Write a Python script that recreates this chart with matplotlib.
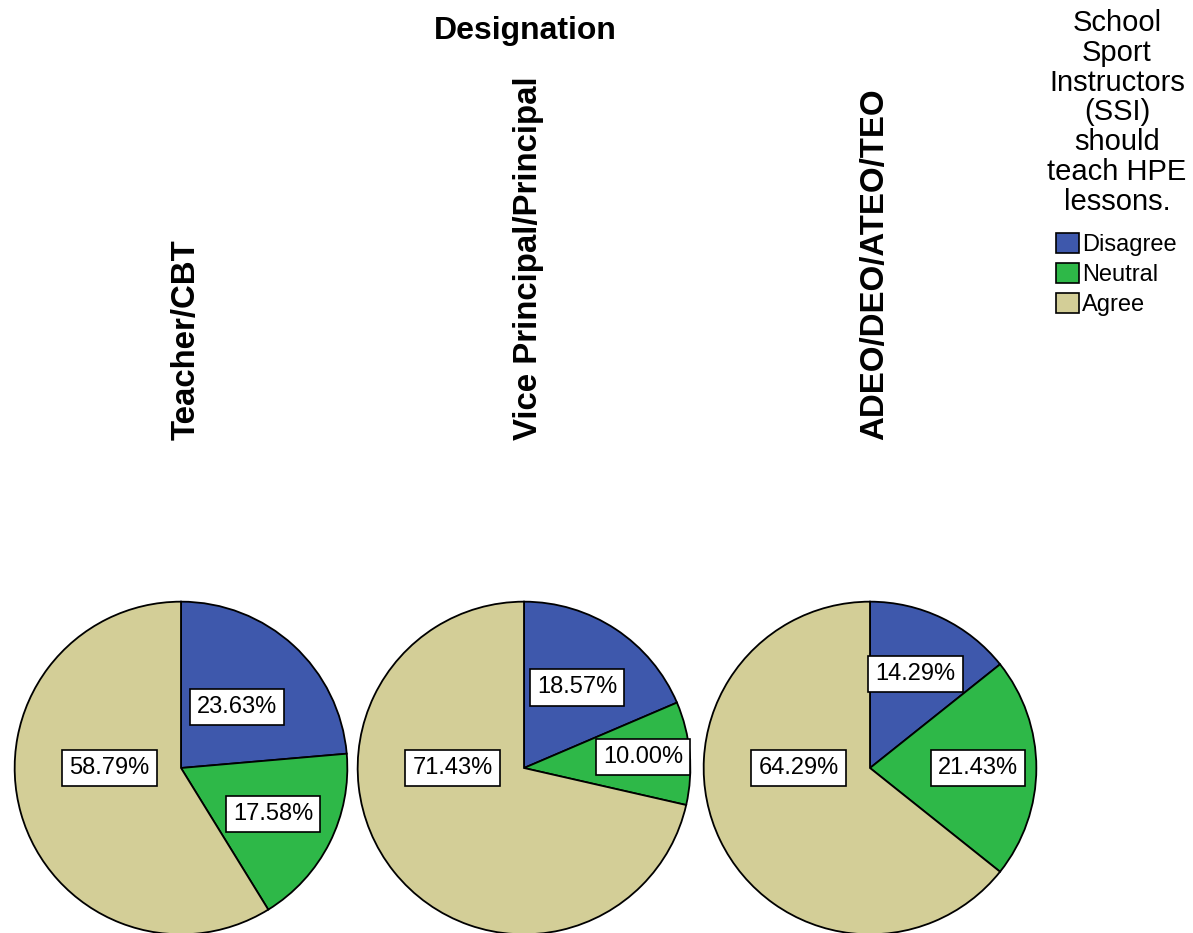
import matplotlib
matplotlib.use("Agg")
import matplotlib.pyplot as plt
from matplotlib.patches import Patch
import numpy as np

# Survey responses per designation (percent of respondents)
designations = ["Teacher/CBT", "Vice Principal/Principal", "ADEO/DEO/ATEO/TEO"]
responses = ["Disagree", "Neutral", "Agree"]
disagree = [23.63, 18.57, 14.29]
neutral = [17.58, 10.00, 21.43]
agree = [58.79, 71.43, 64.29]
legend_title = "School\nSport\nInstructors\n(SSI)\nshould\nteach HPE\nlessons."
header = "Designation"

colors = ["#3E58AC", "#2EB848", "#D3CE97"]
# radial placement of the percentage boxes (fraction of radius)
label_r = {0: [0.50, 0.58, 0.63], 1: [0.62, 0.72, 0.65]}

W, H = 1193, 933
fig = plt.figure(figsize=(W / 100, H / 100), dpi=100)
fig.patch.set_facecolor("white")

R = 168
centers_x = [181, 524, 870]
center_y = 768

fig.text(525 / W, 1 - 31 / H, header, ha="center", va="center",
         fontsize=23, fontweight="bold", family="Liberation Sans")

for i, name in enumerate(designations):
    cx = centers_x[i]
    ax = fig.add_axes([(cx - R) / W, (H - center_y - R) / H, 2 * R / W, 2 * R / H])
    vals = [disagree[i], neutral[i], agree[i]]
    ax.pie(vals, colors=colors, startangle=90, counterclock=False, radius=1.0,
           wedgeprops=dict(edgecolor="black", linewidth=1.3))
    ax.set_xlim(-1.01, 1.01)
    ax.set_ylim(-1.01, 1.01)
    ax.set_aspect("equal")
    ax.axis("off")

    # Percentage labels inside each slice
    cum = 0.0
    for j, v in enumerate(vals):
        if j == 2:
            ang = np.pi
            r = 0.43
        else:
            mid = cum + v / 2
            ang = np.deg2rad(90 - mid * 3.6)
            r = label_r[j][i]
        cum += v
        ax.text(r * np.cos(ang), r * np.sin(ang), f"{v:.2f}%",
                ha="center", va="center", fontsize=17, family="Liberation Sans",
                bbox=dict(boxstyle="square,pad=0.3", facecolor="white",
                          edgecolor="black", linewidth=1.2))

    fig.text((cx + 5) / W, 1 - 440 / H, name, rotation=90, ha="center",
             va="bottom", fontsize=23.8, fontweight="bold", family="Liberation Sans")

# Legend title and entries
fig.text(1117 / W, 1 - 9 / H, legend_title, ha="center", va="top",
         fontsize=21, family="Liberation Sans", linespacing=1.08)

handles = [Patch(facecolor=c, edgecolor="black", linewidth=1.2) for c in colors]
fig.legend(handles, responses, loc="upper left",
           bbox_to_anchor=(1056 / W, 1 - 233 / H), frameon=False,
           prop=dict(family="Liberation Sans", size=17),
           handlelength=0.97, handleheight=0.92, handletextpad=0.15,
           labelspacing=0.3, borderpad=0, borderaxespad=0)

fig.savefig("out.png", dpi=100, facecolor="white")
